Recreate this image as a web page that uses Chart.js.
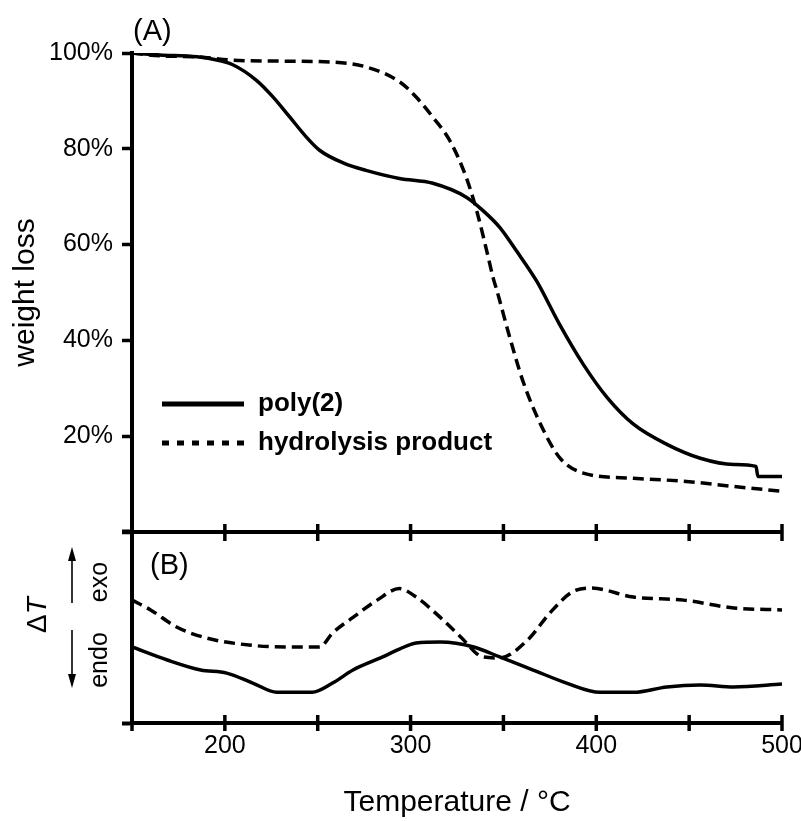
<!DOCTYPE html>
<html><head><meta charset="utf-8">
<script src="https://cdn.jsdelivr.net/npm/chart.js@4.4.1/dist/chart.umd.min.js"></script>
<style>
html,body{margin:0;padding:0;background:#fff;}
#wrap{position:relative;width:801px;height:821px;overflow:hidden;font-family:'Liberation Sans',Arial,Helvetica,sans-serif;color:#000;background:#fff;}
canvas{position:absolute;left:0;}
#cA{top:0;}
#cB{top:500px;}
.lbl{position:absolute;line-height:1;white-space:nowrap;}
.rot{transform:translate(-50%,-50%) rotate(-90deg);}
svg{position:absolute;left:0;top:0;pointer-events:none;}
</style></head>
<body>
<div id="wrap">
<canvas id="cA" width="801" height="556"></canvas>
<canvas id="cB" width="801" height="321"></canvas>
<div class="lbl" style="left:133px;top:16px;font-size:29px;">(A)</div>
<div class="lbl" style="left:150px;top:550px;font-size:29px;">(B)</div>
<div class="lbl rot" style="left:37px;top:615px;font-size:28px;">&Delta;<i>T</i></div>
<div class="lbl rot" style="left:98px;top:582px;font-size:25px;">exo</div>
<div class="lbl rot" style="left:98px;top:660px;font-size:25px;">endo</div>
<svg width="801" height="821">
 <line x1="72" y1="603" x2="72" y2="558" stroke="#000" stroke-width="1.6"/>
 <polygon points="72,547 68,561 76,561" fill="#000"/>
 <line x1="72" y1="630" x2="72" y2="676" stroke="#000" stroke-width="1.6"/>
 <polygon points="72,688 68,674 76,674" fill="#000"/>
</svg>
</div>
<script>
// ---- data ----
const xTickValues = [150, 200, 250, 300, 350, 400, 450, 500];
const xTickLabels = ['', '200', '', '300', '', '400', '', '500'];
const yTickLabelsA = ['', '20%', '40%', '60%', '80%', '100%'];

// (A) TGA: weight (%) vs temperature
const tgaTempPoly = [150,165,185,195,204,217,226,235,244,251,264,276,294,312,330,339,348,357,368,380,393,406,420,438,456,474,486,487,500];
const tgaPoly     = [100,99.6,99.2,98.6,97.6,94.3,90.8,86.6,82.4,79.7,77,75.5,73.8,72.8,69.9,67.1,63.6,58.7,52.3,43.5,35,28,22.5,18.3,15.4,14.1,13.7,11.6,11.6];
const tgaTempHyd  = [150,165,185,204,230,258,276,294,303,312,321,330,336,341,344.5,346.5,353.5,360.5,370,380.5,393,420,447,474,500];
const tgaHyd      = [100,99.4,99.2,98.5,98.3,98.1,97.1,94,90.8,86.6,81.8,74,66.5,58.7,53,50.4,40.5,31.5,22.5,15.4,12.3,11.2,10.6,9.5,8.5];

// (B) DTA: ΔT (arbitrary units) vs temperature
const dtaTempPoly = [150,169,187,201,215,228,247,258,269,285,294,303,316,334,348,366,384,402,420,438,456,474,500];
const dtaPoly     = [39.6,32.8,27.6,26,20.8,16,16,20.8,27.6,34.4,38.5,41.7,42.2,39.6,34.4,27.6,20.8,16,16,18.8,19.8,18.8,20.3];
const dtaTempHyd  = [150,160,174,190,213,233,251,258,269,282,294,303,316,327,339,348,363,375,387,397,420,447,474,500];
const dtaHyd      = [64,58.9,50,44.3,40.6,39.6,39.6,46.9,55,64,70,65.6,55,44.8,34.4,33.9,43.2,57.3,68.2,70.3,65.6,64,59.9,58.9];

const seriesLabels = ['poly(2)', 'hydrolysis product'];

// ---- helpers ----
const FONT = "'Liberation Sans', Arial, Helvetica, sans-serif";
Chart.defaults.font.family = FONT;
Chart.defaults.color = '#000';
const pts = (xs, ys) => xs.map((x, i) => ({x: x, y: ys[i]}));

const crossTicks = {
  id: 'crossTicks',
  afterDraw(chart, args, o) {
    const xs = chart.scales.x, ctx = chart.ctx, y = chart.chartArea.bottom;
    ctx.save();
    ctx.strokeStyle = '#000'; ctx.lineWidth = 3.5;
    xTickValues.forEach(v => {
      const px = xs.getPixelForValue(v);
      ctx.beginPath(); ctx.moveTo(px, y - o.up); ctx.lineTo(px, y + o.down); ctx.stroke();
    });
    ctx.restore();
  }
};

const inlineLegend = {
  id: 'inlineLegend',
  afterDraw(chart, args, o) {
    const ctx = chart.ctx;
    chart.data.datasets.forEach((ds, i) => {
      const y = o.y + i * o.gap;
      ctx.save();
      ctx.strokeStyle = '#000'; ctx.lineWidth = o.lineWidth;
      ctx.setLineDash(ds.borderDash ? o.dash : []);
      ctx.beginPath(); ctx.moveTo(o.x1, y); ctx.lineTo(o.x2, y); ctx.stroke();
      ctx.setLineDash([]);
      ctx.fillStyle = '#000'; ctx.font = 'bold 26px ' + FONT; ctx.textBaseline = 'middle';
      ctx.fillText(ds.label, o.tx, y);
      ctx.restore();
    });
  }
};

const lineDs = (label, data, dashed) => ({
  label: label, data: data, borderColor: '#000', borderWidth: 3.5, pointRadius: 0,
  cubicInterpolationMode: 'monotone', fill: false, borderDash: dashed ? [11, 6] : undefined
});

// ---- (A) ----
new Chart(document.getElementById('cA'), {
  type: 'line',
  data: { datasets: [
    lineDs(seriesLabels[0], pts(tgaTempPoly, tgaPoly), false),
    lineDs(seriesLabels[1], pts(tgaTempHyd, tgaHyd), true)
  ]},
  options: {
    responsive: false, animation: false, events: [],
    layout: { padding: { top: 53, right: 19, bottom: 14, left: 0 } },
    plugins: {
      legend: { display: false }, tooltip: { enabled: false },
      crossTicks: { up: 8, down: 9 },
      inlineLegend: { x1: 162, x2: 244, tx: 258, y: 404, gap: 39, lineWidth: 5, dash: [7, 8] }
    },
    scales: {
      x: { type: 'linear', min: 150, max: 500,
        ticks: { display: false, stepSize: 50 },
        grid: { display: false },
        border: { display: true, width: 4, color: '#000' },
        afterFit(s) { s.height = 0; s.paddingLeft = 0; s.paddingRight = 0; } },
      y: { min: 0, max: 100,
        ticks: { stepSize: 20, callback: (v, i) => yTickLabelsA[i], font: { size: 25 }, color: '#000', padding: 9 },
        grid: { drawOnChartArea: false, drawTicks: true, tickLength: 10, tickWidth: 3.5, tickColor: '#000' },
        border: { width: 4, color: '#000' },
        title: { display: true, text: 'weight loss', font: { size: 30 }, color: '#000', padding: { top: 8, bottom: 0 } },
        afterFit(s) { s.width = 132; } }
    }
  },
  plugins: [crossTicks, inlineLegend]
});

// ---- (B) ----
new Chart(document.getElementById('cB'), {
  type: 'line',
  data: { datasets: [
    lineDs(seriesLabels[0], pts(dtaTempPoly, dtaPoly), false),
    lineDs(seriesLabels[1], pts(dtaTempHyd, dtaHyd), true)
  ]},
  options: {
    responsive: false, animation: false, events: [],
    layout: { padding: { top: 31, right: 19, bottom: 0, left: 0 } },
    plugins: { legend: { display: false }, tooltip: { enabled: false }, crossTicks: { up: 8, down: 8 } },
    scales: {
      x: { type: 'linear', min: 150, max: 500,
        ticks: { stepSize: 50, autoSkip: false, maxRotation: 0,
          callback: (v, i) => xTickLabels[xTickValues.indexOf(v)] || '',
          font: { size: 25 }, color: '#000', padding: 0 },
        grid: { display: false },
        border: { display: true, width: 4, color: '#000' },
        title: { display: true, text: 'Temperature / °C', font: { size: 30 }, color: '#000', padding: { top: 0, bottom: 0 } },
        afterFit(s) { s.height = 98; s.paddingLeft = 0; s.paddingRight = 0; } },
      y: { min: 0, max: 100,
        ticks: { display: false, stepSize: 100 },
        grid: { drawOnChartArea: false, drawTicks: true, tickLength: 10, tickWidth: 4, tickColor: '#000' },
        border: { width: 4, color: '#000' },
        afterFit(s) { s.width = 132; } }
    }
  },
  plugins: [crossTicks]
});
</script>
</body></html>
